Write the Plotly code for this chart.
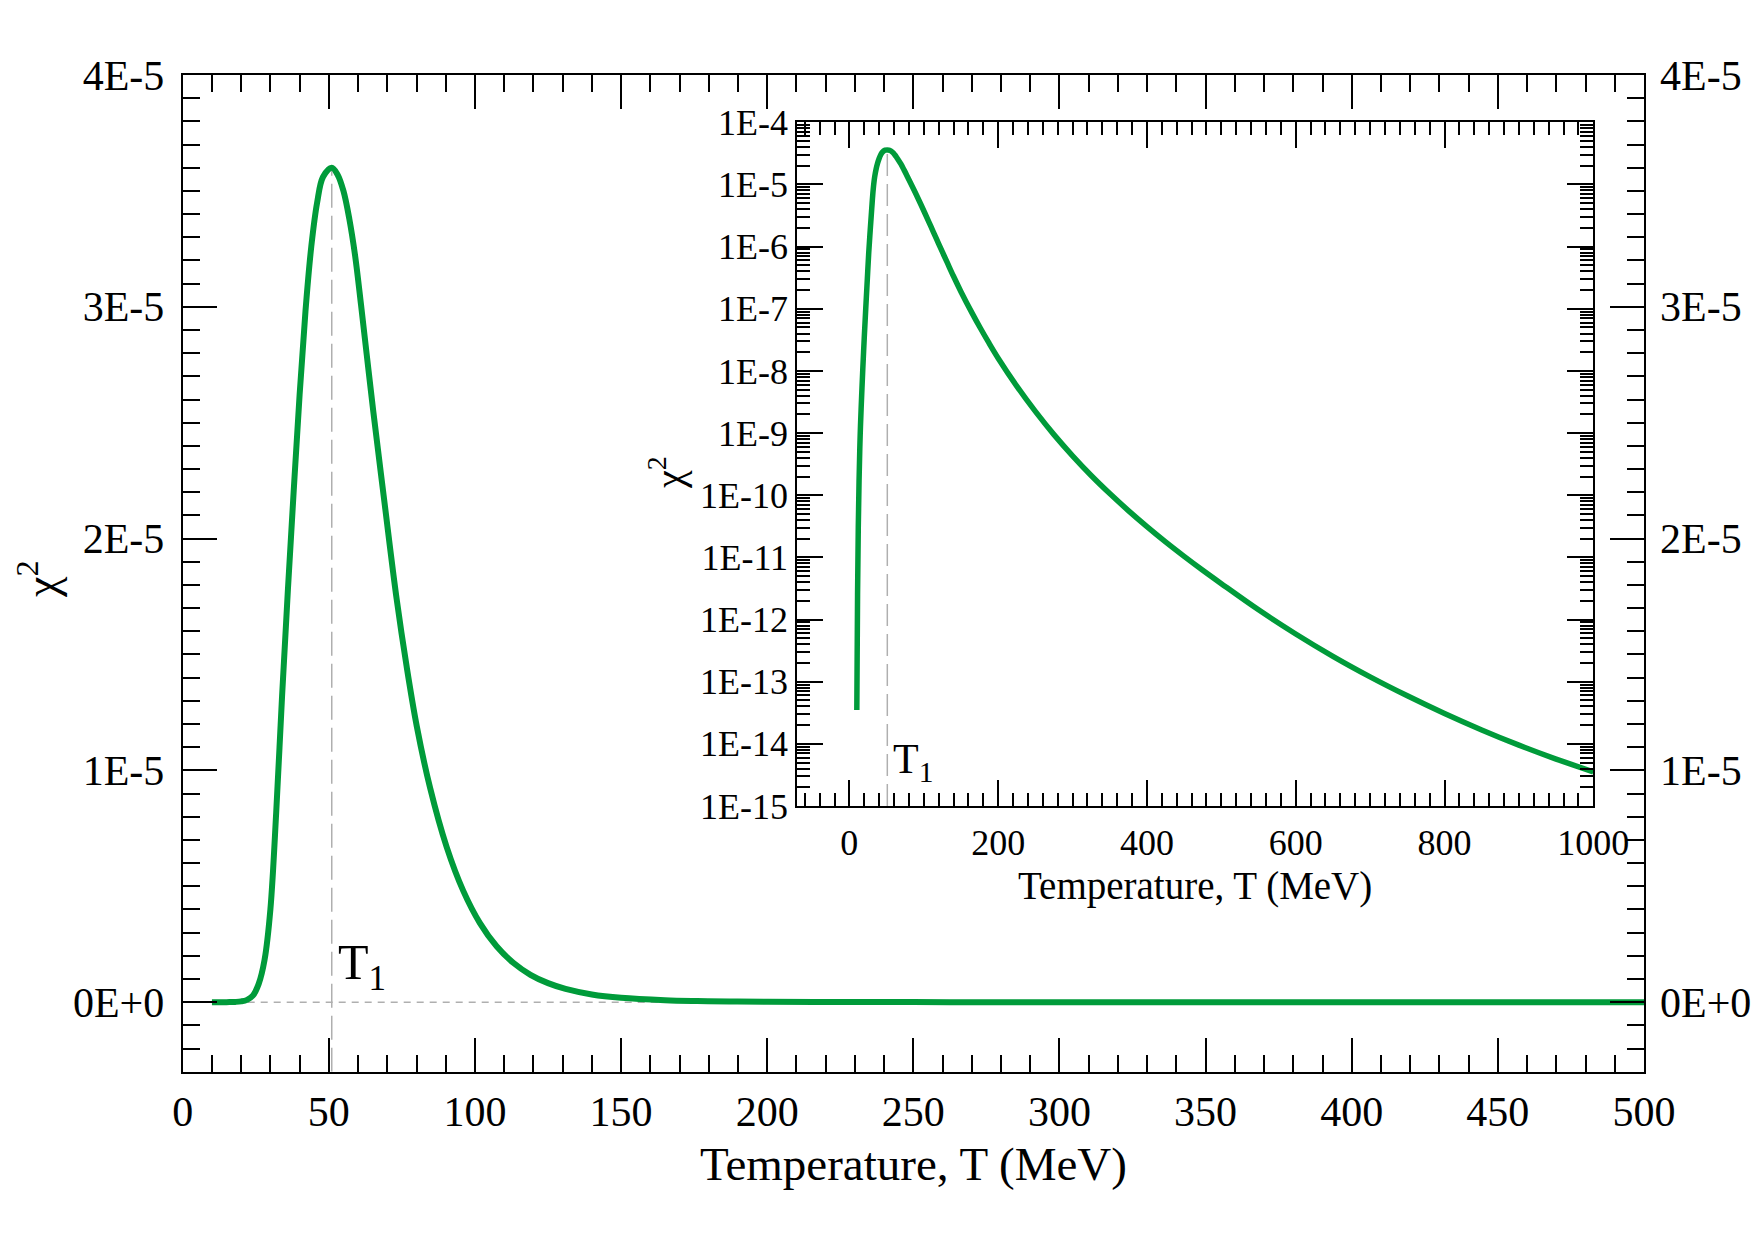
import numpy as np
import plotly.graph_objects as go

# ---------------- data ----------------
T_MeV = [10, 11, 12, 13, 14, 15, 16.5, 18, 20, 22,
         24, 26, 28, 30, 32, 34, 36, 38, 40, 42,
         44, 46, 48, 51, 53, 55, 57, 59, 61, 63,
         65.2, 69.2, 73.2, 76.6, 80.1, 84.6, 90.3, 96, 101.7, 107.4,
         113.1, 119, 125, 131, 140, 150, 165, 176, 187, 200,
         225, 250, 275, 300, 325, 350, 375, 400, 425, 450,
         475, 500, 550, 600, 650, 700, 750, 800, 850, 900,
         950, 1000]
chi2 = [3.5e-14, 2.5e-12, 3.16e-11, 1.66e-10, 5.6e-10, 1.38e-9, 3.98e-9, 1.05e-8, 3.39e-8, 1.0e-7,
        2.82e-7, 7.9e-7, 1.82e-6, 4.0e-6, 8.2e-6, 1.32e-5, 1.78e-5, 2.21e-5, 2.62e-5, 2.98e-5,
        3.26e-5, 3.45e-5, 3.56e-5, 3.60e-5, 3.57e-5, 3.50e-5, 3.38e-5, 3.22e-5, 3.01e-5, 2.79e-5,
        2.55e-5, 2.14e-5, 1.74e-5, 1.45e-5, 1.19e-5, 9.27e-6, 6.70e-6, 4.80e-6, 3.41e-6, 2.41e-6,
        1.70e-6, 1.18e-6, 8.20e-7, 5.73e-7, 3.33e-7, 1.884e-7, 8.51e-8, 4.90e-8, 2.90e-8, 1.603e-8,
        5.69e-9, 2.23e-9, 9.44e-10, 4.31e-10, 2.08e-10, 1.064e-10, 5.66e-11, 3.13e-11, 1.778e-11, 1.040e-11,
        6.21e-12, 3.78e-12, 1.432e-12, 5.86e-13, 2.56e-13, 1.197e-13, 5.93e-14, 3.08e-14, 1.675e-14, 9.53e-15,
        5.69e-15, 3.55e-15]

main_x_range = [0, 500]
main_y_range = [-0.3e-5, 4e-5]
main_ytick_vals = [0, 1e-5, 2e-5, 3e-5, 4e-5]
main_ytick_text = ["0E+0", "1E-5", "2E-5", "3E-5", "4E-5"]

inset_x_range = [-70, 1000]
inset_exponents = list(range(-15, -3))
inset_ytick_vals = [10.0 ** e for e in inset_exponents]
inset_ytick_text = ["1E%d" % e for e in inset_exponents]

x_title = "Temperature, T (MeV)"
y_title = "χ<sup>2</sup>"
peak_label = "T<sub>1</sub>"

# ---------------- derived ----------------
i_peak = int(np.argmax(chi2))
T_peak = T_MeV[i_peak]
chi2_peak = chi2[i_peak]

GREEN = "rgb(0,155,58)"
DASH = "rgb(175,175,175)"
FONT = "Liberation Serif"
W, H = 1755, 1240

# pixel geometry -> paper domains
mx0, mx1, my0, my1 = 182.7, 1644.0, 75.0, 1071.7
ix0, ix1, iy0, iy1 = 797.3, 1593.3, 122.3, 806.0
main_xdom = [mx0 / W, mx1 / W]
main_ydom = [1 - my1 / H, 1 - my0 / H]
ins_xdom = [ix0 / W, ix1 / W]
ins_ydom = [1 - iy1 / H, 1 - iy0 / H]

main_x_minor = [v for v in range(0, 501, 10) if v % 50]
main_y_minor = [k * 1e-6 for k in range(-3, 41) if k % 10]
ins_x_minor = [v for v in range(-60, 1001, 20) if v % 200]
ins_y_minor = [k * 10.0 ** e for e in range(-15, -4) for k in range(2, 10)]

fig = go.Figure()

# reference dashed lines (main)
fig.add_trace(go.Scatter(x=[main_x_range[0], main_x_range[1]], y=[0, 0], mode="lines",
                         line=dict(color=DASH, width=1.5, dash="7px,6px"),
                         xaxis="x", yaxis="y", showlegend=False, hoverinfo="skip"))
fig.add_trace(go.Scatter(x=[T_peak, T_peak], y=[main_y_range[0], chi2_peak], mode="lines",
                         line=dict(color=DASH, width=1.5, dash="24px,8px"),
                         xaxis="x", yaxis="y", showlegend=False, hoverinfo="skip"))
# main curve
fig.add_trace(go.Scatter(x=T_MeV, y=chi2, mode="lines", line_shape="spline",
                         line=dict(color=GREEN, width=6),
                         xaxis="x", yaxis="y", showlegend=False))
# invisible trace so that the right-hand label axis is built
fig.add_trace(go.Scatter(x=T_MeV, y=chi2, mode="lines", opacity=0,
                         line=dict(color=GREEN, width=0.1),
                         xaxis="x", yaxis="y3", showlegend=False, hoverinfo="skip"))

# inset dashed line
fig.add_trace(go.Scatter(x=[T_peak, T_peak], y=[inset_ytick_vals[0], chi2_peak], mode="lines",
                         line=dict(color=DASH, width=1.5, dash="22px,8px"),
                         xaxis="x2", yaxis="y2", showlegend=False, hoverinfo="skip"))
# inset curve
fig.add_trace(go.Scatter(x=T_MeV, y=chi2, mode="lines", line_shape="spline",
                         line=dict(color=GREEN, width=5.5),
                         xaxis="x2", yaxis="y2", showlegend=False))

axis_common = dict(showgrid=False, zeroline=False, showline=True, linecolor="black",
                   linewidth=2, mirror="ticks", ticks="inside", tickcolor="black",
                   tickwidth=2, automargin=False)

fig.update_layout(
    template="none",
    width=W, height=H, autosize=False,
    margin=dict(l=0, r=0, t=0, b=0, pad=0),
    paper_bgcolor="white", plot_bgcolor="white",
    font=dict(family=FONT, color="black"),
    xaxis=dict(**axis_common, domain=main_xdom, anchor="y", range=main_x_range,
               tickmode="linear", tick0=0, dtick=50, ticklen=34,
               tickfont=dict(size=42, family=FONT), ticklabelstandoff=2,
               minor=dict(tickmode="array", tickvals=main_x_minor, ticks="inside",
                          ticklen=17, tickwidth=2, tickcolor="black")),
    yaxis=dict(**axis_common, domain=main_ydom, anchor="x", range=main_y_range,
               tickmode="array", tickvals=main_ytick_vals, ticktext=main_ytick_text,
               ticklen=34, tickfont=dict(size=42, family=FONT), ticklabelstandoff=8,
               minor=dict(tickmode="array", tickvals=main_y_minor, ticks="inside",
                          ticklen=17, tickwidth=2, tickcolor="black")),
    yaxis3=dict(overlaying="y", side="right", anchor="x", range=main_y_range,
                showgrid=False, zeroline=False, showline=False, ticks="", automargin=False,
                tickmode="array", tickvals=main_ytick_vals, ticktext=main_ytick_text,
                tickfont=dict(size=42, family=FONT), ticklabelstandoff=15),
    xaxis2=dict(**axis_common, domain=ins_xdom, anchor="y2", range=inset_x_range,
                tickmode="linear", tick0=0, dtick=200, ticklen=26,
                tickfont=dict(size=36, family=FONT), ticklabelstandoff=4,
                minor=dict(tickmode="array", tickvals=ins_x_minor, ticks="inside",
                           ticklen=13, tickwidth=2, tickcolor="black")),
    yaxis2=dict(**axis_common, domain=ins_ydom, anchor="x2", type="log",
                range=[np.log10(inset_ytick_vals[0]), np.log10(inset_ytick_vals[-1])],
                tickmode="array", tickvals=inset_ytick_vals, ticktext=inset_ytick_text,
                ticklen=26, tickfont=dict(size=36, family=FONT), ticklabelstandoff=0,
                minor=dict(tickmode="array", tickvals=ins_y_minor, ticks="inside",
                           ticklen=13, tickwidth=2, tickcolor="black")),
)

annotations = [
    # main axis titles
    dict(text=x_title, xref="paper", yref="paper", x=(mx0 + mx1) / 2 / W, y=1 - 1164 / H,
         xanchor="center", yanchor="middle", showarrow=False, font=dict(size=47, family=FONT)),
    dict(text=y_title, xref="paper", yref="paper", x=38 / W, y=1 - 579 / H, textangle=-90,
         xanchor="center", yanchor="middle", showarrow=False, font=dict(size=46, family=FONT)),
    # inset axis titles
    dict(text=x_title, xref="paper", yref="paper", x=(ix0 + ix1) / 2 / W, y=1 - 886 / H,
         xanchor="center", yanchor="middle", showarrow=False, font=dict(size=39, family=FONT)),
    dict(text=y_title, xref="paper", yref="paper", x=666 / W, y=1 - 473 / H, textangle=-90,
         xanchor="center", yanchor="middle", showarrow=False, font=dict(size=40, family=FONT)),
    # T1 labels
    dict(text=peak_label, xref="x", yref="y", x=T_peak, y=0, xanchor="left", yanchor="bottom",
         xshift=4, yshift=2, showarrow=False, font=dict(size=50, family=FONT)),
    dict(text=peak_label, xref="x2", yref="y2", x=T_peak, y=np.log10(inset_ytick_vals[0]),
         xanchor="left", yanchor="bottom", xshift=4, yshift=16, showarrow=False,
         font=dict(size=42, family=FONT)),
]
fig.update_layout(annotations=annotations)

fig.write_html("out.html")
